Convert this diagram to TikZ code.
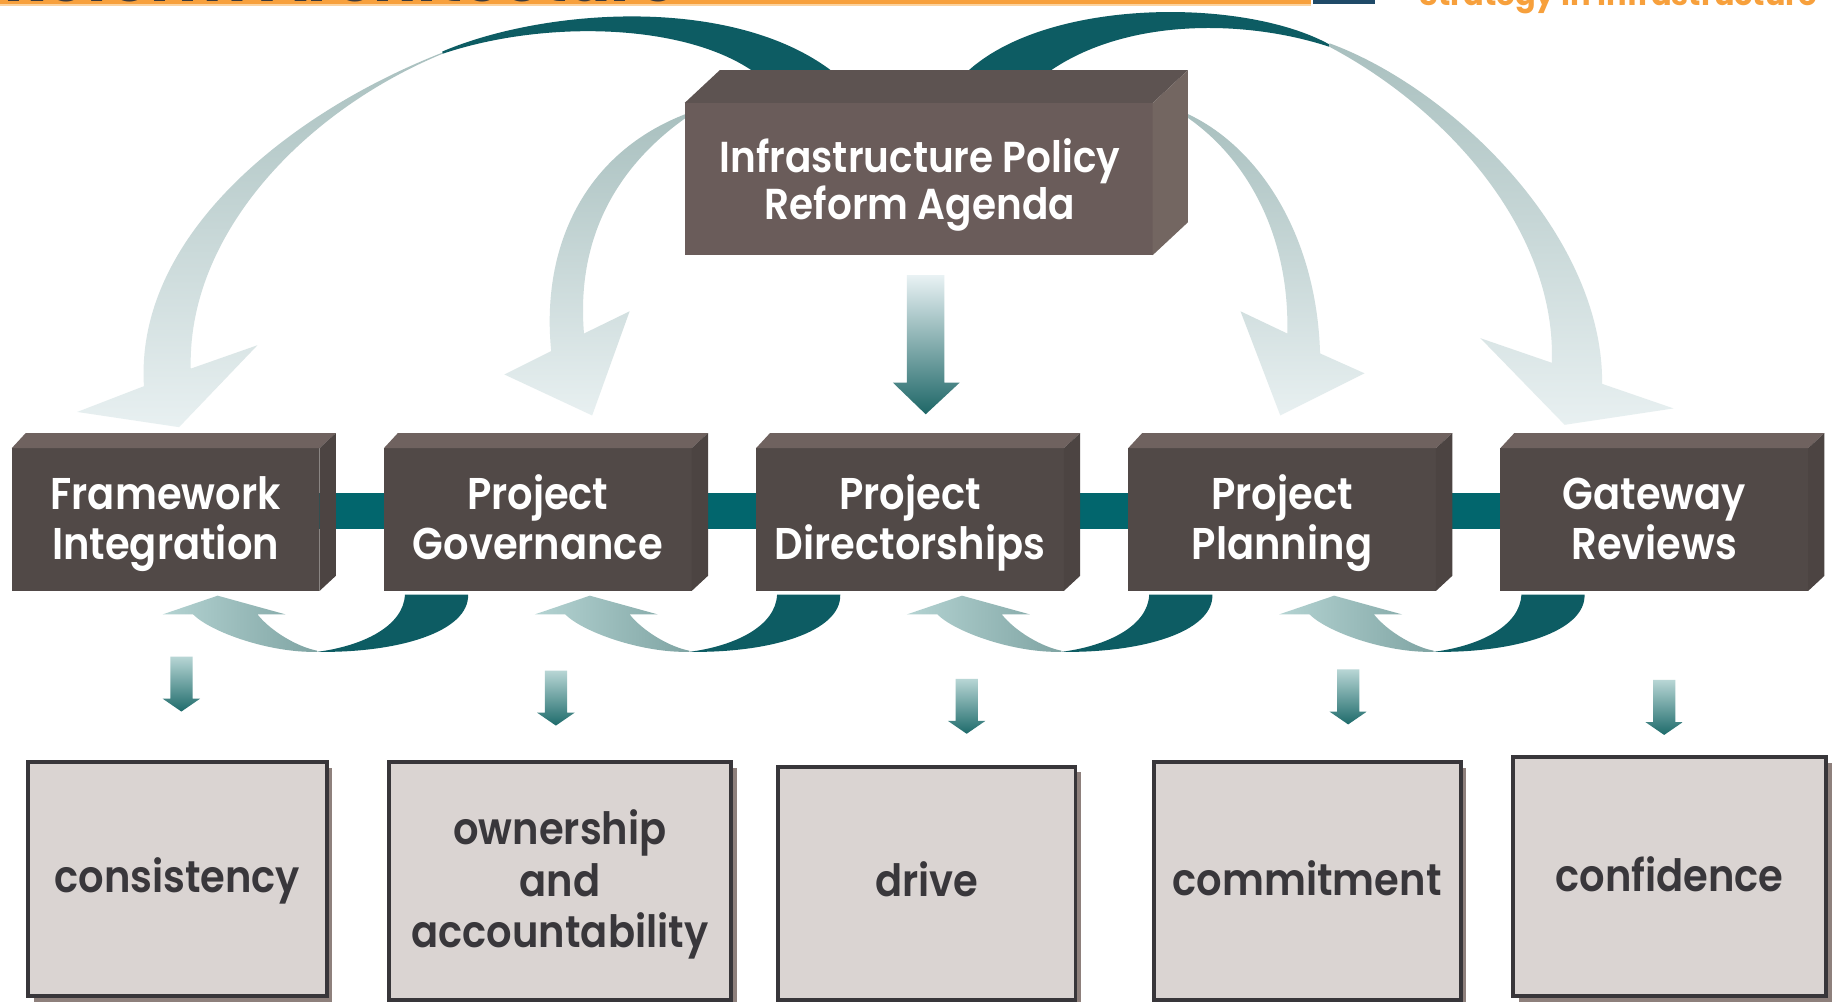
\documentclass[tikz,border=0pt]{standalone}
\usepackage{fontspec}
\usetikzlibrary{shadows}
\newfontfamily\boxfont{Poppins}[UprightFont={* SemiBold}, FakeStretch=0.9]
\newfontfamily\titlefont{Poppins}[UprightFont={* Bold}]
\definecolor{cDarkTeal}{HTML}{0D5C63}
\definecolor{cBar}{HTML}{02666D}
\definecolor{cMidFront}{HTML}{514947}
\definecolor{cMidTop}{HTML}{6F625F}
\definecolor{cMidSide}{HTML}{4C4442}
\definecolor{cTopFront}{HTML}{6A5C5A}
\definecolor{cTopTop}{HTML}{5D5351}
\definecolor{cTopSide}{HTML}{736661}
\definecolor{cBotFill}{HTML}{DAD4D2}
\definecolor{cBotDraw}{HTML}{38363A}
\definecolor{cShadow}{HTML}{8E807C}
\definecolor{cBotText}{HTML}{39373B}
\definecolor{cOrange}{HTML}{F7A03C}
\definecolor{cOrangeLight}{HTML}{FBD3A0}
\definecolor{cNavy}{HTML}{1F4A68}
\definecolor{cTitle}{HTML}{3C3A3C}
\definecolor{cArcTop}{HTML}{A9C0BF}
\definecolor{cArcBot}{HTML}{E8F0F1}
\definecolor{cUlight}{HTML}{B4D3D2}
\definecolor{cUdark}{HTML}{7FA4A3}
\definecolor{cSmTop}{HTML}{B8D6D5}
\definecolor{cSmBot}{HTML}{1E6B6B}
\definecolor{cCenTop}{HTML}{E9F2F4}
\definecolor{cCenMid}{HTML}{B3C7C9}
\definecolor{cCenBot}{HTML}{1E6767}
\tikzset{
  midfront/.style={fill=cMidFront, minimum width=263pt, minimum height=122pt, inner sep=0pt, outer sep=0pt, anchor=north west},
  topfront/.style={fill=cTopFront, minimum width=400pt, minimum height=130pt, inner sep=0pt, outer sep=0pt, anchor=north west},
  botbox/.style={draw=cBotDraw, fill=cBotFill, line width=3.4pt, inner sep=0pt, outer sep=0pt, anchor=north west,
     drop shadow={shadow xshift=5pt, shadow yshift=-5pt, fill=cShadow, opacity=1}},
  whitetxt/.style={anchor=base, inner sep=0pt, text=white, font=\boxfont\fontsize{38}{44}\selectfont},
  toptxt/.style={anchor=base, inner sep=0pt, text=white, font=\boxfont\fontsize{37}{44}\selectfont},
  greytxt/.style={anchor=base, inner sep=0pt, text=cBotText, font=\boxfont\fontsize{38}{44}\selectfont},
  arcshade/.style={top color=cArcTop, bottom color=cArcBot},
  smallarrow/.style={top color=cSmTop, bottom color=cSmBot},
}
\begin{document}
\begin{tikzpicture}[x=1pt,y=-1pt]
\path[use as bounding box] (0,0) rectangle (1568,856);
\clip (0,0) rectangle (1568,856);
\fill[white] (0,0) rectangle (1568,856);

% header fragments (cut off at the top edge, as in the reference)
\fill[cOrangeLight] (0,3) rectangle (1120,5);
\fill[cOrange] (0,0) rectangle (1120,3);
\fill[cNavy] (1122,0) rectangle (1175,3);
\node[anchor=base west, inner sep=0pt, text=cTitle, font=\titlefont\fontsize{55}{55}\selectfont] (title) at (4,1.5) {Reform Architecture};
\node[anchor=base, inner sep=0pt, text=cOrange, font=\titlefont\fontsize{26}{26}\selectfont] (subtitle) at (1383,5) {Strategy in Infrastructure};

% dark upper bands (behind the top box)
\fill[cDarkTeal] (378,44) .. controls (470,5) and (640,-5) .. (722,70) -- (655,70) .. controls (600,20) and (470,15) .. (378,46) -- cycle;
\fill[cDarkTeal] (818,70) .. controls (880,-2) and (1060,-4) .. (1136,38) -- (1136,40) .. controls (1060,15) and (950,15) .. (885,70) -- cycle;

% light curved arrows
\shade[arcshade] (378,45) .. controls (250,95) and (115,200) .. (123,330) -- (66,352) -- (153,365) -- (220,295) -- (163,315) .. controls (160,200) and (260,95) .. (378,46) -- cycle;
\shade[arcshade] (1136,37) .. controls (1240,75) and (1370,200) .. (1369,328) -- (1430,349) -- (1337,363) -- (1265,289) -- (1326,310) .. controls (1330,200) and (1240,95) .. (1136,40) -- cycle;
\shade[arcshade] (587,97) .. controls (500,130) and (462,210) .. (471,300) -- (431,320) -- (506,355) -- (538,266) -- (499,285) .. controls (492,200) and (530,140) .. (587,100) -- cycle;
\shade[arcshade] (1014,97) .. controls (1075,125) and (1125,200) .. (1128,302) -- (1166,319) -- (1094,355) -- (1060,266) -- (1100,285) .. controls (1102,200) and (1065,135) .. (1014,100) -- cycle;

% top box
\node[topfront] (top) at (585,88) {};
\fill[cTopTop] (top.north west) -- ++(30,-28) -- ([shift={(30,-28)}]top.north east) -- (top.north east) -- cycle;
\fill[cTopSide] (top.north east) -- ++(30,-28) -- ([shift={(30,-28)}]top.south east) -- (top.south east) -- cycle;
\node[toptxt] (topa) at (786,147) {Infrastructure Policy};
\node[toptxt] (topb) at (786,187.5) {Reform Agenda};

% centre arrow
\shade[top color=cCenTop, middle color=cCenMid, bottom color=cCenBot] (775,235) -- (807,235) -- (807,327) -- (820,327) -- (791,354) -- (763,327) -- (775,327) -- cycle;

% connecting bar
\fill[cBar] (30,421) rectangle (1540,452);

% middle boxes
\foreach \i/\x/\la/\lb in {1/10/Framework/Integration,2/328/Project/Governance,3/646/Project/Directorships,4/964/Project/Planning,5/1282/Gateway/Reviews}{
  \node[midfront] (m\i) at (\x,383) {};
  \fill[cMidTop] (m\i.north west) -- ++(12,-13) -- ([shift={(14,-13)}]m\i.north east) -- (m\i.north east) -- cycle;
  \fill[cMidSide] (m\i.north east) -- ++(14,-13) -- ([shift={(14,-13)}]m\i.south east) -- (m\i.south east) -- cycle;
  \node[whitetxt] (ma\i) at ({\x+131.5},435) {\la};
  \node[whitetxt] (mb\i) at ({\x+131.5},478.5) {\lb};
}

% U-turn arrows between the boxes
\foreach \k in {0,1,2,3}{
  \begin{scope}[xshift=\k*318pt]
    \fill[cDarkTeal] (346,508) -- (400,508) .. controls (401,540) and (340,558) .. (271,557) .. controls (310,552) and (345,535) .. (346,508) -- cycle;
    \shade[left color=cUlight, right color=cUdark] (271,557) .. controls (230,558) and (180,540) .. (165,525) -- (139,525) -- (186,509) -- (244,525) -- (220,525) .. controls (232,540) and (255,553) .. (271,556) -- cycle;
  \end{scope}
}

% small down arrows
\foreach \cx/\ty in {155/561, 475/573, 826/580, 1152/572, 1422/581}{
  \shade[smallarrow] ({\cx-9.5},\ty) -- ++(19,0) -- ++(0,36) -- ++(6.5,0) -- ++(-16,11) -- ++(-16,-11) -- ++(6.5,0) -- cycle;
}

% bottom boxes
\node[botbox, minimum width=255pt, minimum height=200pt] (b1) at (24,651) {};
\node[botbox, minimum width=293pt, minimum height=203.5pt] (b2) at (332,651) {};
\node[botbox, minimum width=254pt, minimum height=199.5pt] (b3) at (665,655) {};
\node[botbox, minimum width=262pt, minimum height=203.5pt] (b4) at (986,651) {};
\node[botbox, minimum width=267pt, minimum height=204pt] (b5) at (1293,647) {};

\node[greytxt] (tb1) at (151.5,763) {consistency};
\node[greytxt] (tb2a) at (478.5,722) {ownership};
\node[greytxt] (tb2b) at (478.5,766) {and};
\node[greytxt] (tb2c) at (478.5,810) {accountability};
\node[greytxt] (tb3) at (792,766) {drive};
\node[greytxt] (tb4) at (1117,765) {commitment};
\node[greytxt] (tb5) at (1426.5,762) {confidence};
\end{tikzpicture}
\end{document}
